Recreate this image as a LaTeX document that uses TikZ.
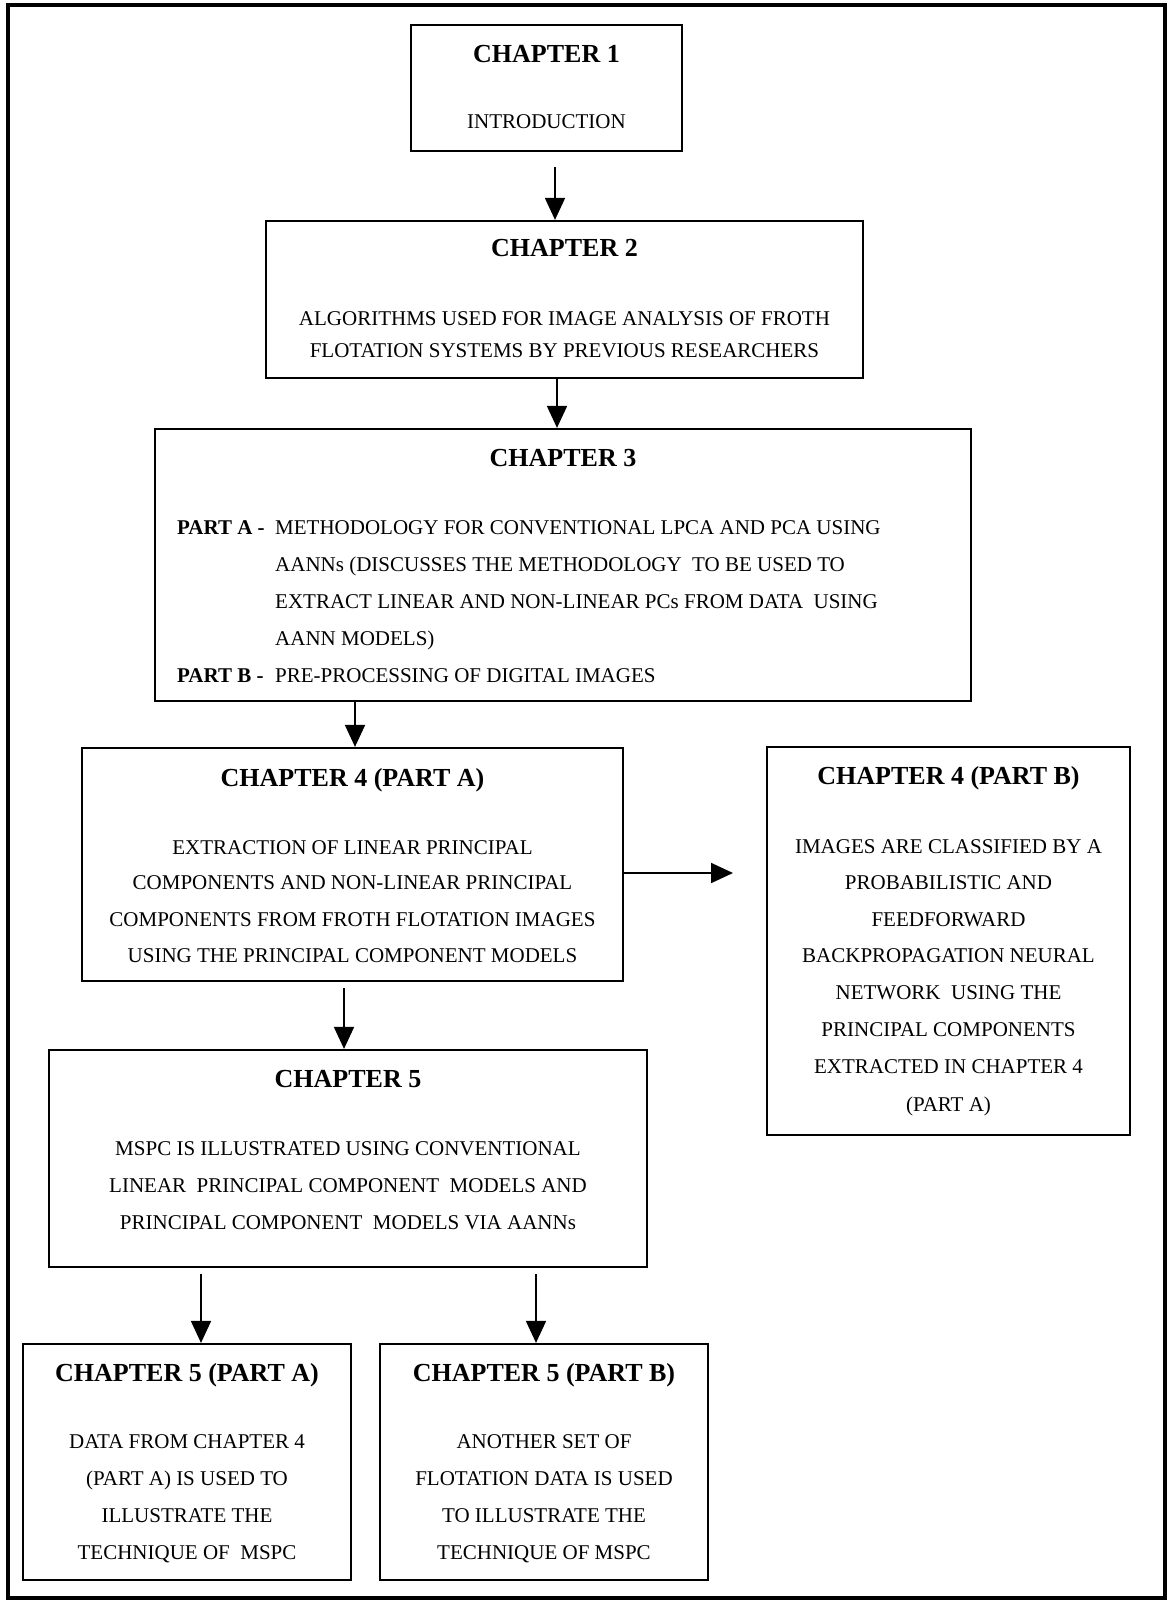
\documentclass[tikz,border=0pt]{standalone}
\usepackage{fontspec}
\setmainfont{Liberation Serif}
\usetikzlibrary{arrows.meta}

\tikzset{
  box/.style={draw, line width=2.2pt, inner sep=0pt, rectangle},
  frame/.style={draw, line width=3.5pt},
  arr/.style={line width=1.8pt, -{Triangle[length=22pt,width=20pt]}},
  ttl/.style={anchor=base, inner sep=0pt, font=\fontsize{26}{30}\selectfont\bfseries},
  body/.style={anchor=base, inner sep=0pt, font=\fontsize{21}{25}\selectfont},
  bodyw/.style={anchor=base west, inner sep=0pt, font=\fontsize{21}{25}\selectfont},
}

\begin{document}
\begin{tikzpicture}[x=1pt, y=-1pt]
  \useasboundingbox[fill=white] (0,0) rectangle (1167,1602);
  \draw[frame] (8,5) rectangle (1165,1598);

  % chapter boxes
  \node[box, minimum width=271pt, minimum height=126pt] (b1)  at (546.5,88)   {};
  \node[box, minimum width=597pt, minimum height=157pt] (b2)  at (564.5,299.5) {};
  \node[box, minimum width=816pt, minimum height=272pt] (b3)  at (563,565)    {};
  \node[box, minimum width=541pt, minimum height=233pt] (b4a) at (352.5,864.5) {};
  \node[box, minimum width=363pt, minimum height=388pt] (b4b) at (948.5,941)  {};
  \node[box, minimum width=598pt, minimum height=217pt] (b5)  at (348,1158.5) {};
  \node[box, minimum width=328pt, minimum height=236pt] (b5a) at (187,1462)   {};
  \node[box, minimum width=328pt, minimum height=236pt] (b5b) at (544,1462)   {};

  % chapter 1
  \node[ttl]  (t1)  at (546.5,63)  {CHAPTER 1};
  \node[body] (l1a) at (546.5,129) {INTRODUCTION};

  % chapter 2
  \node[ttl]  (t2)  at (564.5,257) {CHAPTER 2};
  \node[body] (l2a) at (564.5,325) {ALGORITHMS USED FOR IMAGE ANALYSIS OF FROTH};
  \node[body] (l2b) at (564.5,357) {FLOTATION SYSTEMS BY PREVIOUS RESEARCHERS};

  % chapter 3
  \node[ttl]  (t3)  at (563,466) {CHAPTER 3};
  \node[bodyw] (l3a) at (177,534) {\textbf{PART A -}};
  \node[bodyw] (l3b) at (275,534) {METHODOLOGY FOR CONVENTIONAL LPCA AND PCA USING};
  \node[bodyw] (l3c) at (275,571) {AANNs (DISCUSSES THE METHODOLOGY\ \ TO BE USED TO};
  \node[bodyw] (l3d) at (275,608) {EXTRACT LINEAR AND NON-LINEAR PCs FROM DATA\ \ USING};
  \node[bodyw] (l3e) at (275,645) {AANN MODELS)};
  \node[bodyw] (l3f) at (177,682) {\textbf{PART B -}};
  \node[bodyw] (l3g) at (275,682) {PRE-PROCESSING OF DIGITAL IMAGES};

  % chapter 4, part A
  \node[ttl]  (t4a) at (352.5,786) {CHAPTER 4 (PART A)};
  \node[body] (l4a) at (352.5,854) {EXTRACTION OF LINEAR PRINCIPAL};
  \node[body] (l4b) at (352.5,889) {COMPONENTS AND NON-LINEAR PRINCIPAL};
  \node[body] (l4c) at (352.5,926) {COMPONENTS FROM FROTH FLOTATION IMAGES};
  \node[body] (l4d) at (352.5,962) {USING THE PRINCIPAL COMPONENT MODELS};

  % chapter 4, part B
  \node[ttl]  (t4b) at (948.5,784)  {CHAPTER 4 (PART B)};
  \node[body] (m4a) at (948.5,853)  {IMAGES ARE CLASSIFIED BY A};
  \node[body] (m4b) at (948.5,889)  {PROBABILISTIC AND};
  \node[body] (m4c) at (948.5,926)  {FEEDFORWARD};
  \node[body] (m4d) at (948.5,962)  {BACKPROPAGATION NEURAL};
  \node[body] (m4e) at (948.5,999)  {NETWORK\ \ USING THE};
  \node[body] (m4f) at (948.5,1036) {PRINCIPAL COMPONENTS};
  \node[body] (m4g) at (948.5,1073) {EXTRACTED IN CHAPTER 4};
  \node[body] (m4h) at (948.5,1111) {(PART A)};

  % chapter 5
  \node[ttl]  (t5)  at (348,1087) {CHAPTER 5};
  \node[body] (l5a) at (348,1155) {MSPC IS ILLUSTRATED USING CONVENTIONAL};
  \node[body] (l5b) at (348,1192) {LINEAR\ \ PRINCIPAL COMPONENT\ \ MODELS AND};
  \node[body] (l5c) at (348,1229) {PRINCIPAL COMPONENT\ \ MODELS VIA AANNs};

  % chapter 5, part A
  \node[ttl]  (t5a) at (187,1381) {CHAPTER 5 (PART A)};
  \node[body] (p5a) at (187,1448) {DATA FROM CHAPTER 4};
  \node[body] (p5b) at (187,1485) {(PART A) IS USED TO};
  \node[body] (p5c) at (187,1522) {ILLUSTRATE THE};
  \node[body] (p5d) at (187,1559) {TECHNIQUE OF\ \ MSPC};

  % chapter 5, part B
  \node[ttl]  (t5b) at (544,1381) {CHAPTER 5 (PART B)};
  \node[body] (q5a) at (544,1448) {ANOTHER SET OF};
  \node[body] (q5b) at (544,1485) {FLOTATION DATA IS USED};
  \node[body] (q5c) at (544,1522) {TO ILLUSTRATE THE};
  \node[body] (q5d) at (544,1559) {TECHNIQUE OF MSPC};

  % free arrow ends
  \coordinate (s1)  at (555,167);
  \coordinate (s2)  at (557,0);
  \coordinate (s3)  at (355,0);
  \coordinate (e4)  at (733,873);
  \coordinate (s5)  at (344,988);
  \coordinate (s6)  at (201,1274);
  \coordinate (s7)  at (536,1274);

  % connectors
  \draw[arr] (s1) -- (s1 |- b2.north);
  \draw[arr] (b2.south -| s2) -- (b3.north -| s2);
  \draw[arr] (b3.south -| s3) -- (b4a.north -| s3);
  \draw[arr] (b4a.east |- e4) -- (e4);
  \draw[arr] (s5) -- (s5 |- b5.north);
  \draw[arr] (s6) -- (s6 |- b5a.north);
  \draw[arr] (s7) -- (s7 |- b5b.north);
\end{tikzpicture}
\end{document}
